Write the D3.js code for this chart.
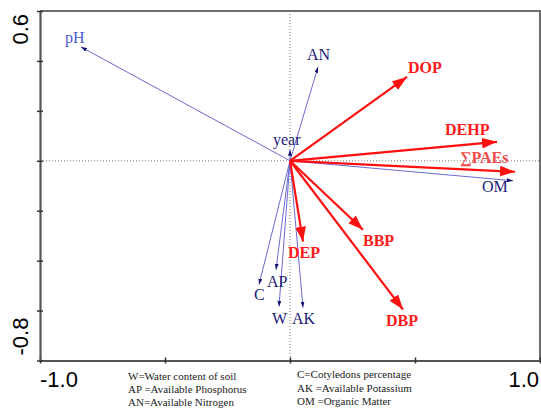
<!DOCTYPE html>
<html>
<head>
<meta charset="utf-8">
<script src="https://cdn.jsdelivr.net/npm/d3@7"></script>
<style>
  body { margin: 0; background: #fff; }
  svg { display: block; }
</style>
</head>
<body>
<div id="chart"></div>
<script>
// soil / environment variables (thin blue arrows)
var envNames = ["pH", "AN", "year", "OM", "AP", "C", "W", "AK"];
var envX = [-0.836, 0.112, 0.0, 0.892, -0.056, -0.124, -0.044, 0.052];
var envY = [0.456, 0.376, 0.044, -0.080, -0.436, -0.496, -0.584, -0.588];

// phthalate esters (bold red arrows)
var paeNames = ["DOP", "DEHP", "\u2211PAEs", "BBP", "DBP", "DEP"];
var paeX = [0.468, 0.828, 0.900, 0.292, 0.452, 0.052];
var paeY = [0.336, 0.076, -0.044, -0.276, -0.596, -0.324];

var xTicks = [-1.0, -0.5, 0, 0.5, 1.0];
var yTicks = [0.6, 0.4, 0.2, 0, -0.2, -0.4, -0.6, -0.8];
var xTickLabels = ["-1.0", "1.0"];
var yTickLabels = ["0.6", "-0.8"];

var legendLeft = ["W=Water content of soil", "AP =Available Phosphorus", "AN=Available Nitrogen"];
var legendRight = ["C=Cotyledons percentage", "AK =Available Potassium", "OM =Organic Matter"];

var width = 541, height = 411;

let x = d3.scaleLinear().domain([-1, 1]).range([40, 540]);
let y = d3.scaleLinear().domain([-0.8, 0.6]).range([360.5, 11]);

let svg = d3.select("#chart").append("svg")
  .attr("width", width)
  .attr("height", height);

let defs = svg.append("defs");

defs.append("marker")
  .attr("id", "redHead")
  .attr("markerUnits", "userSpaceOnUse")
  .attr("viewBox", "0 0 14 10")
  .attr("refX", 14).attr("refY", 5)
  .attr("markerWidth", 15).attr("markerHeight", 11)
  .attr("orient", "auto")
  .append("path")
  .attr("d", "M0,0 L14,5 L0,10 Z")
  .attr("fill", "#ff1010");

defs.append("marker")
  .attr("id", "blueHead")
  .attr("markerUnits", "userSpaceOnUse")
  .attr("viewBox", "0 0 6 4")
  .attr("refX", 6).attr("refY", 2)
  .attr("markerWidth", 6).attr("markerHeight", 4)
  .attr("orient", "auto")
  .append("path")
  .attr("d", "M0,0 L6,2 L0,4 Z")
  .attr("fill", "#101070");

// dotted zero lines
svg.append("line")
  .attr("x1", x(0)).attr("x2", x(0))
  .attr("y1", y(0.6)).attr("y2", y(-0.8))
  .attr("stroke", "#777").attr("stroke-width", 1)
  .attr("stroke-dasharray", "1,2");

svg.append("line")
  .attr("x1", x(-1)).attr("x2", x(1))
  .attr("y1", y(0)).attr("y2", y(0))
  .attr("stroke", "#777").attr("stroke-width", 1)
  .attr("stroke-dasharray", "1,2");

// frame: top and right border
svg.append("path")
  .attr("d", "M" + x(-1) + "," + y(0.6) + "H" + x(1) + "V" + y(-0.8))
  .attr("fill", "none")
  .attr("stroke", "#6e6e6e")
  .attr("stroke-width", 2);

// axes
let xAxis = d3.axisBottom(x).tickValues(xTicks).tickSize(3).tickSizeOuter(0).tickFormat("");
let yAxis = d3.axisLeft(y).tickValues(yTicks).tickSize(3).tickSizeOuter(0).tickFormat("");

let gx = svg.append("g")
  .attr("transform", "translate(0," + y(-0.8) + ")")
  .call(xAxis);
let gy = svg.append("g")
  .attr("transform", "translate(" + x(-1) + ",0)")
  .call(yAxis);

[gx, gy].forEach(function (g) {
  g.select(".domain").attr("stroke", "#555").attr("stroke-width", 2.2);
  g.selectAll(".tick line").attr("stroke", "#333").attr("stroke-width", 1.5);
});
gx.selectAll(".tick line").attr("y1", -3).attr("y2", 3);
gy.selectAll(".tick line").attr("x1", -3).attr("x2", 3);

// tick labels (only end values shown)
svg.append("text")
  .attr("x", x(-1)).attr("y", 387)
  .attr("font-family", "Liberation Sans, Arial, sans-serif")
  .attr("font-size", 22)
  .attr("text-anchor", "start")
  .text(xTickLabels[0]);
svg.append("text")
  .attr("x", x(1) - 1).attr("y", 387)
  .attr("font-family", "Liberation Sans, Arial, sans-serif")
  .attr("font-size", 22)
  .attr("text-anchor", "end")
  .text(xTickLabels[1]);

svg.append("text")
  .attr("transform", "translate(28," + (y(0.6) + 3) + ") rotate(-90)")
  .attr("font-family", "Liberation Sans, Arial, sans-serif")
  .attr("font-size", 22)
  .attr("text-anchor", "end")
  .text(yTickLabels[0]);
svg.append("text")
  .attr("transform", "translate(28," + (y(-0.8) - 5) + ") rotate(-90)")
  .attr("font-family", "Liberation Sans, Arial, sans-serif")
  .attr("font-size", 22)
  .attr("text-anchor", "start")
  .text(yTickLabels[1]);

// label placement relative to arrow tip (px)
let labelOffset = {
  "pH": [-16, -4], "AN": [-11, -7], "year": [-17, -5], "OM": [-31, 11],
  "AP": [-9, 17], "C": [-5, 15], "W": [-7, 17], "AK": [-11, 16],
  "DOP": [1, -4], "DEHP": [-52, -7], "\u2211PAEs": [-55, -9],
  "BBP": [0, 16], "DBP": [-17, 16], "DEP": [-15, 16]
};

let env = envNames.map(function (n, i) { return {name: n, x: envX[i], y: envY[i]}; });
let pae = paeNames.map(function (n, i) { return {name: n, x: paeX[i], y: paeY[i]}; });

// blue arrows
svg.append("g").selectAll("line")
  .data(env)
  .join("line")
  .attr("x1", x(0)).attr("y1", y(0))
  .attr("x2", function (d) { return x(d.x); })
  .attr("y2", function (d) { return y(d.y); })
  .attr("stroke", "#6a6ad2")
  .attr("stroke-width", 1)
  .attr("marker-end", "url(#blueHead)");

// red arrows
svg.append("g").selectAll("line")
  .data(pae)
  .join("line")
  .attr("x1", x(0)).attr("y1", y(0))
  .attr("x2", function (d) { return x(d.x); })
  .attr("y2", function (d) { return y(d.y); })
  .attr("stroke", "#ff1010")
  .attr("stroke-width", 2.2)
  .attr("marker-end", "url(#redHead)");

svg.append("g").selectAll("text")
  .data(env)
  .join("text")
  .attr("x", function (d) { return x(d.x) + labelOffset[d.name][0]; })
  .attr("y", function (d) { return y(d.y) + labelOffset[d.name][1]; })
  .attr("font-family", "Liberation Serif, Times New Roman, serif")
  .attr("font-size", 16)
  .attr("fill", function (d) { return d.name === "pH" ? "#4a5fcf" : "#1c1c7a"; })
  .text(function (d) { return d.name; });

svg.append("g").selectAll("text")
  .data(pae)
  .join("text")
  .attr("x", function (d) { return x(d.x) + labelOffset[d.name][0]; })
  .attr("y", function (d) { return y(d.y) + labelOffset[d.name][1]; })
  .attr("font-family", "Liberation Serif, Times New Roman, serif")
  .attr("font-size", 16)
  .attr("font-weight", "bold")
  .attr("fill", function (d) { return d.name === "\u2211PAEs" ? "#f04a4a" : "#ff1a1a"; })
  .text(function (d) { return d.name; });

// abbreviations
svg.append("g").selectAll("text")
  .data(legendLeft)
  .join("text")
  .attr("x", 128)
  .attr("y", function (d, i) { return 380 + i * 13; })
  .attr("font-family", "Liberation Serif, Times New Roman, serif")
  .attr("font-size", 11)
  .attr("fill", "#222")
  .text(function (d) { return d; });

svg.append("g").selectAll("text")
  .data(legendRight)
  .join("text")
  .attr("x", 297)
  .attr("y", function (d, i) { return 378 + i * 13.5; })
  .attr("font-family", "Liberation Serif, Times New Roman, serif")
  .attr("font-size", 11)
  .attr("fill", "#222")
  .text(function (d) { return d; });
</script>
</body>
</html>
